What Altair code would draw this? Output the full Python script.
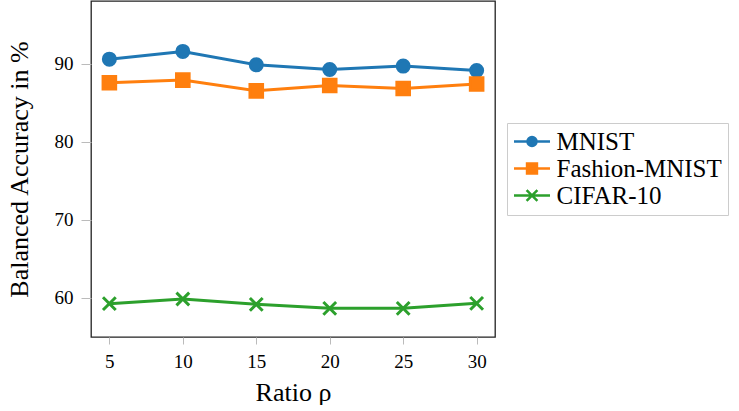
import altair as alt
import pandas as pd

ratios = [5, 10, 15, 20, 25, 30]
series_names = ["MNIST", "Fashion-MNIST", "CIFAR-10"]
mnist = [90.56, 91.55, 89.83, 89.23, 89.67, 89.10]
fashion = [87.53, 87.88, 86.50, 87.19, 86.80, 87.37]
cifar = [59.27, 59.87, 59.18, 58.67, 58.67, 59.31]
colors = ["#1f77b4", "#ff7f0e", "#2ca02c"]
x_ticks = [5, 10, 15, 20, 25, 30]
y_ticks = [60, 70, 80, 90]

rows = []
for name, vals in zip(series_names, [mnist, fashion, cifar]):
    for r, v in zip(ratios, vals):
        rows.append({"ratio": r, "acc": v, "series": name})
df = pd.DataFrame(rows)

FONT = "Liberation Serif"

# marker paths for plot points (unit = half of sqrt(size))
pt_paths = [
    "M-0.8,0A0.8,0.8,0,1,1,0.8,0A0.8,0.8,0,1,1,-0.8,0Z",
    "M-0.84,-0.84L0.84,-0.84L0.84,0.84L-0.84,0.84Z",
    "M-0.85,-0.85L0.85,0.85M-0.85,0.85L0.85,-0.85",
]

# legend symbols: line + marker (unit = 9 px)
lg_circle = "M-2,0L2,0M-0.5,0A0.5,0.5,0,1,1,0.5,0A0.5,0.5,0,1,1,-0.5,0Z"
lg_square = "M-2,0L2,0M-0.55,-0.55L0.55,-0.55L0.55,0.55L-0.55,0.55Z"
lg_cross = "M-2,0L2,0M-0.6,-0.6L0.6,0.6M-0.6,0.6L0.6,-0.6"
shape_expr = (
    f"datum.value === '{series_names[0]}' ? '{lg_circle}' : "
    f"(datum.value === '{series_names[1]}' ? '{lg_square}' : '{lg_cross}')"
)


def make_legend():
    return alt.Legend(
        title=None,
        orient="none",
        legendX=416,
        legendY=122,
        strokeColor="#cccccc",
        fillColor="white",
        padding=6,
        labelFont=FONT,
        labelFontSize=25,
        labelColor="black",
        labelLimit=400,
        labelOffset=12,
        symbolType={"expr": shape_expr},
        symbolSize=324,
        symbolOffset=6.5,
        symbolStrokeWidth=2.5,
        symbolOpacity=1,
        rowPadding=1,
        cornerRadius=0,
    )


x_enc = alt.X(
    "ratio:Q",
    scale=alt.Scale(domain=[3.75, 31.25], nice=False, zero=False),
    axis=alt.Axis(values=x_ticks, title="Ratio ρ", tickSize=7, labelPadding=8,
                  titlePadding=8, grid=False, domain=False, tickColor="#bbbbbb",
                  labelFont=FONT, labelFontSize=19, labelColor="black",
                  titleFont=FONT, titleFontSize=26, titleFontWeight="normal",
                  titleColor="black"),
)
y_enc = alt.Y(
    "acc:Q",
    scale=alt.Scale(domain=[55, 98], nice=False, zero=False),
    axis=alt.Axis(values=y_ticks, title="Balanced Accuracy in %", tickSize=10,
                  labelPadding=8, titlePadding=22, grid=False, domain=False,
                  tickColor="#bbbbbb",
                  labelFont=FONT, labelFontSize=19, labelColor="black",
                  titleFont=FONT, titleFontSize=26, titleFontWeight="normal",
                  titleColor="black"),
)

base = alt.Chart(df)

lines = base.mark_line(strokeWidth=3).encode(
    x=x_enc,
    y=y_enc,
    color=alt.Color("series:N", scale=alt.Scale(domain=series_names, range=colors),
                    legend=make_legend()),
    detail="series:N",
)

point_layers = []
for name, path in zip(series_names, pt_paths):
    point_layers.append(
        base.transform_filter(alt.datum.series == name)
        .mark_point(shape=path, filled=False, strokeWidth=3, size=225, opacity=1,
                    fillOpacity=1)
        .encode(
            x=x_enc,
            y=y_enc,
            color=alt.Color("series:N",
                            scale=alt.Scale(domain=series_names, range=colors),
                            legend=make_legend()),
            fill=alt.Fill("series:N",
                          scale=alt.Scale(domain=series_names, range=colors),
                          legend=make_legend()),
        )
    )

chart = (
    alt.layer(lines, *point_layers)
    .properties(width=404, height=336,
                padding={"left": 6, "top": 1, "right": 0, "bottom": 0})
    .configure_view(stroke="#222222", strokeWidth=1.3)
)

chart.save("out.html", embed_options={"renderer": "svg", "actions": False})
